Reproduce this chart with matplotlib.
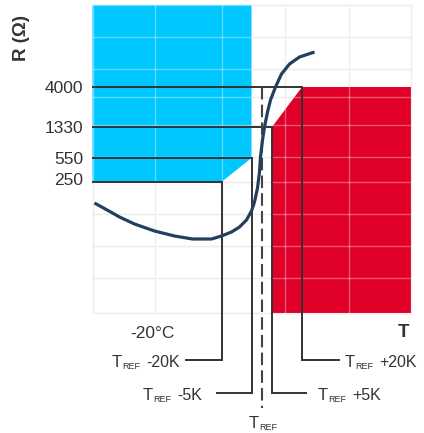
import numpy as np
import matplotlib.pyplot as plt
from matplotlib.patches import Polygon

plt.rcParams['font.family'] = ['Liberation Sans', 'DejaVu Sans']

# resistance levels (label text and place on the schematic R axis)
r_labels = ["4000", "1330", "550", "250"]
r_levels = [226, 186, 155, 131]
r_label_shift = [0, 0, 0, 3]

# temperature offsets from T_REF in K, and the R level each one closes on
t_offsets = [-20, -5, 5, 20]
t_level = [131, 155, 186, 226]
t_suffix = [" -20K", " -5K", " +5K", " +20K"]
t_row = [-47, -80, -80, -47]          # height of the leader line
t_lead_end = [-37.75, -22.25, 22.25, 38.75]
t_text_x = [-40.75, -29.75, 28.25, 41.75]

# R(T) curve, x in K from T_REF
curve_t = [-83.5, -74.5, -71, -63.5, -53.5, -43.5, -34.5, -25, -20, -15, -11,
           -7.5, -5, -3.5, -2, -1, -0.5, 0.5, 1.5, 3, 4.5, 7, 10, 14, 19, 26.5]
curve_r = [110, 100, 96, 89, 82, 77, 74, 74, 77, 81, 86,
           93, 102, 111, 125, 141, 156, 173, 186, 201, 213, 226, 239, 249, 256, 261]

grid_t = [-84.5, -53.5, -20, 11.5, 43.5, 74.75]
grid_r = [308, 276, 244, 216, 188, 156, 131, 99, 67, 35, 0]

blue = '#00c8ff'
red = '#e00028'
navy = '#243f5e'
dark = '#333333'
txt = '#333333'

fig = plt.figure(figsize=(4.24, 4.33), dpi=100)
ax = fig.add_axes([0, 0, 1, 1])
ax.set_xlim(-130.75, 81.25)
ax.set_ylim(-120, 313)
ax.axis('off')

x0, x1 = grid_t[0], grid_t[-1]
r_top, r_bot = grid_r[0], grid_r[-1]

# grid, gray below the fills and a light wash on top of them
for g in grid_t:
    ax.plot([g, g], [r_bot, r_top], color='#e6e6e6', lw=1, zorder=1)
    ax.plot([g, g], [r_bot, r_top], color='white', lw=1, alpha=0.35, zorder=3)
for g in grid_r:
    ax.plot([x0, x1], [g, g], color='#e6e6e6', lw=1, zorder=1)
    ax.plot([x0, x1], [g, g], color='white', lw=1, alpha=0.35, zorder=3)

# forbidden zones
cold = [(x0, r_top), (t_offsets[1], r_top), (t_offsets[1], t_level[1]),
        (t_offsets[0], t_level[0]), (x0, t_level[0])]
hot = [(t_offsets[3], t_level[3]), (x1, t_level[3]), (x1, r_bot),
       (t_offsets[2], r_bot), (t_offsets[2], t_level[2])]
ax.add_patch(Polygon(cold, closed=True, facecolor=blue, edgecolor='none', zorder=2))
ax.add_patch(Polygon(hot, closed=True, facecolor=red, edgecolor='none', zorder=2))

# threshold lines with leaders to the labels
for t, lv, row, le in zip(t_offsets, t_level, t_row, t_lead_end):
    ax.plot([x0, t, t, le], [lv, lv, row, row], color=dark, lw=1.4,
            solid_joinstyle='miter', zorder=4)

# T_REF dashed line
ax.plot([0, 0], [t_level[3], -95], color='#444444', lw=1.5,
        linestyle=(0, (6, 2.5)), zorder=4)

ax.plot(curve_t, curve_r, color=navy, lw=2.3, solid_capstyle='butt',
        solid_joinstyle='round', zorder=5)

# axis texts
for lab, lv, sh in zip(r_labels, r_levels, r_label_shift):
    ax.text(-89.25, lv - 6 + sh, lab, fontsize=12.5, color=txt,
            ha='right', va='baseline')
ax.text(-119.75, 275, "R (\u03a9)", fontsize=13.5, fontweight='bold',
        color=txt, rotation=90, ha='center', va='center')
ax.text(-54.75, -25, "-20\u00b0C", fontsize=12.5, color=txt,
        ha='center', va='baseline')
ax.text(70.75, -24, "T", fontsize=13.5, fontweight='bold', color=txt,
        ha='center', va='baseline')

renderer = fig.canvas.get_renderer()
px_per_x = ax.transData.transform((1, 0))[0] - ax.transData.transform((0, 0))[0]


def tref_label(x, base, suffix, right=False):
    parts = [("T", 12, 0, 0), ("REF", 6.5, -2, 0.5)]
    if suffix:
        parts.append((suffix.strip(), 11.5, 0, 6))
    items = []
    for s, size, dy, gap in parts:
        t = ax.text(0, base + dy, s, fontsize=size, color=txt,
                    ha='left', va='baseline')
        w = t.get_window_extent(renderer).width / px_per_x
        items.append((t, w, gap / px_per_x))
    total = sum(w + g for _, w, g in items)
    pos = x - total if right else x
    for t, w, g in items:
        pos += g
        t.set_x(pos)
        pos += w


for i in range(4):
    tref_label(t_text_x[i], t_row[i] - 7, t_suffix[i], right=t_offsets[i] < 0)
tref_label(-6.25, -115, "")

fig.savefig("out.png", dpi=100)
